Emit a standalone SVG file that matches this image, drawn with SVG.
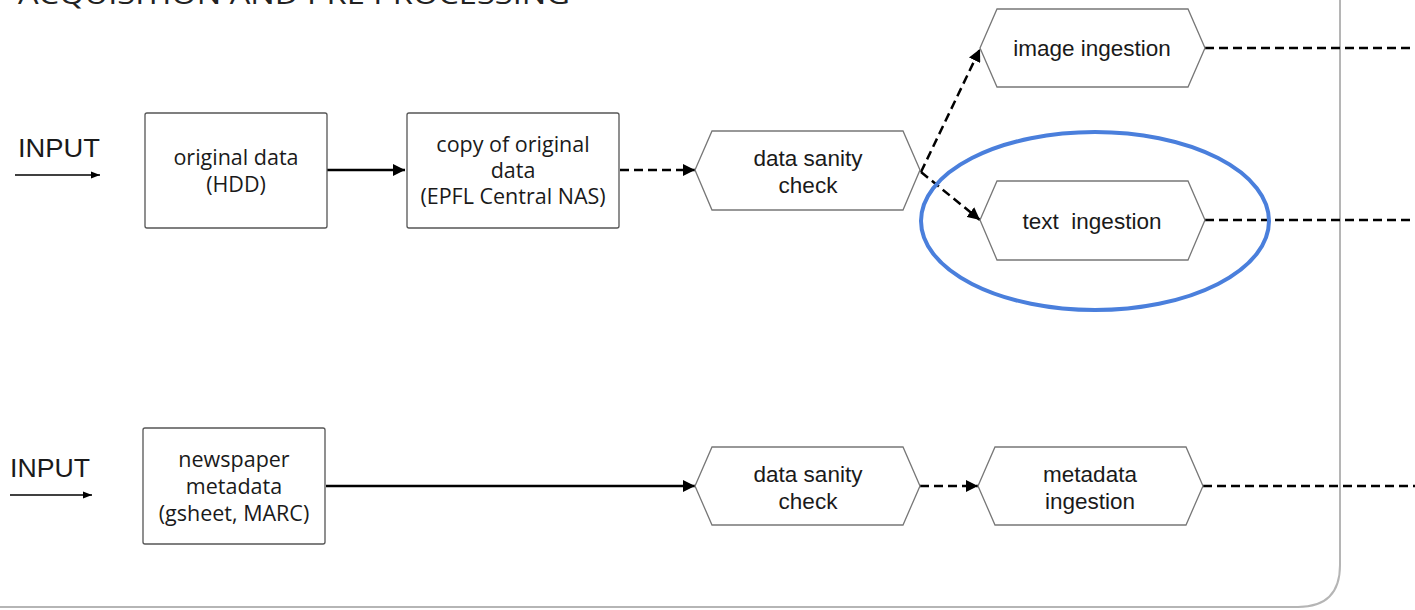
<svg xmlns="http://www.w3.org/2000/svg" width="1415" height="610" viewBox="0 0 1415 610">
<style>
.box{fill:#fff;stroke:#555;stroke-width:1.3}
.hex{fill:#fff;stroke:#777;stroke-width:1.3}
.bt{font-family:"Open Sans",sans-serif;font-size:21.5px;fill:#1a1a1a;text-anchor:middle}
.ht{font-family:"Liberation Sans",Arial,sans-serif;font-size:22.5px;fill:#1a1a1a;text-anchor:middle}
.lbl{font-family:"Liberation Sans",Arial,sans-serif;font-size:25px;fill:#1a1a1a}
.solid{stroke:#000;stroke-width:2.5;fill:none}
.thin{stroke:#000;stroke-width:1.5;fill:none}
.dash{stroke:#000;stroke-width:2.5;fill:none;stroke-dasharray:9 5}
</style>
<defs>
<marker id="ah" viewBox="0 0 10 10" refX="10" refY="5" markerWidth="5" markerHeight="5" orient="auto" markerUnits="strokeWidth"><path d="M0,0 L10,5 L0,10 z" fill="#000"/></marker>
<marker id="ahs" viewBox="0 0 10 10" refX="10" refY="5" markerWidth="6" markerHeight="6" orient="auto" markerUnits="strokeWidth"><path d="M0,1 L10,5 L0,9 z" fill="#000"/></marker>
</defs>
<rect width="1415" height="610" fill="#fff"/>
<g id="container">
<path d="M1340,0 V565 Q1340,607 1298,607 H0" fill="none" stroke="#b5b5b5" stroke-width="2"/>
<text x="18" y="4" font-family="'Open Sans',sans-serif" font-size="28" fill="#222" textLength="552" lengthAdjust="spacingAndGlyphs">ACQUISITION AND PRE PROCESSING</text>
</g>
<g id="connectors">
<line class="thin" x1="15" y1="175" x2="100" y2="175" marker-end="url(#ahs)"/>
<line class="thin" x1="10" y1="495" x2="92" y2="495" marker-end="url(#ahs)"/>
<line class="solid" x1="327" y1="170" x2="405" y2="170" marker-end="url(#ah)"/>
<line class="dash" x1="620" y1="170" x2="695" y2="170" marker-end="url(#ah)"/>
<line class="dash" x1="921" y1="172" x2="980" y2="49" marker-end="url(#ah)"/>
<line class="dash" x1="921" y1="172" x2="980" y2="220" marker-end="url(#ah)"/>
<line class="solid" x1="326" y1="486" x2="695" y2="486" marker-end="url(#ah)"/>
<line class="dash" x1="920" y1="486" x2="978" y2="486" marker-end="url(#ah)"/>
<line class="dash" x1="1205" y1="48" x2="1415" y2="48"/>
<line class="dash" x1="1205" y1="220" x2="1415" y2="220"/>
<line class="dash" x1="1203" y1="486" x2="1415" y2="486"/>
</g>
<g id="input1"><text class="lbl" x="18" y="157" textLength="82" lengthAdjust="spacingAndGlyphs">INPUT</text></g>
<g id="input2"><text class="lbl" x="10" y="477" textLength="80" lengthAdjust="spacingAndGlyphs">INPUT</text></g>
<g id="original-data">
<rect class="box" x="145" y="113" width="182" height="115" rx="2"/>
<text class="bt" x="236" y="165">original data</text>
<text class="bt" x="236" y="192">(HDD)</text>
</g>
<g id="copy-data">
<rect class="box" x="407" y="113" width="212" height="115" rx="2"/>
<text class="bt" x="513" y="152">copy of original</text>
<text class="bt" x="513" y="178">data</text>
<text class="bt" x="513" y="204">(EPFL Central NAS)</text>
</g>
<g id="sanity1">
<polygon class="hex" points="695,170 712,131 903,131 920,170 903,210 712,210"/>
<text class="ht" x="808" y="166">data sanity</text>
<text class="ht" x="808" y="193">check</text>
</g>
<g id="image-ingestion">
<polygon class="hex" points="980,48 997,9 1188,9 1205,48 1188,87 997,87"/>
<text class="ht" x="1092" y="56">image ingestion</text>
</g>
<g id="text-ingestion">
<polygon class="hex" points="980,220 997,181 1188,181 1205,220 1188,260 997,260"/>
<text class="ht" x="1092" y="229" xml:space="preserve">text  ingestion</text>
</g>
<g id="highlight">
<ellipse cx="1095" cy="221" rx="174" ry="89" fill="none" stroke="#4a7fdc" stroke-width="4"/>
</g>
<g id="newspaper-metadata">
<rect class="box" x="143" y="428" width="182" height="116" rx="2"/>
<text class="bt" x="234" y="467">newspaper</text>
<text class="bt" x="234" y="494">metadata</text>
<text class="bt" x="234" y="521">(gsheet, MARC)</text>
</g>
<g id="sanity2">
<polygon class="hex" points="695,486 712,447 903,447 920,486 903,525 712,525"/>
<text class="ht" x="808" y="482">data sanity</text>
<text class="ht" x="808" y="509">check</text>
</g>
<g id="metadata-ingestion">
<polygon class="hex" points="978,486 995,447 1186,447 1203,486 1186,525 995,525"/>
<text class="ht" x="1090" y="482">metadata</text>
<text class="ht" x="1090" y="509">ingestion</text>
</g>
</svg>
